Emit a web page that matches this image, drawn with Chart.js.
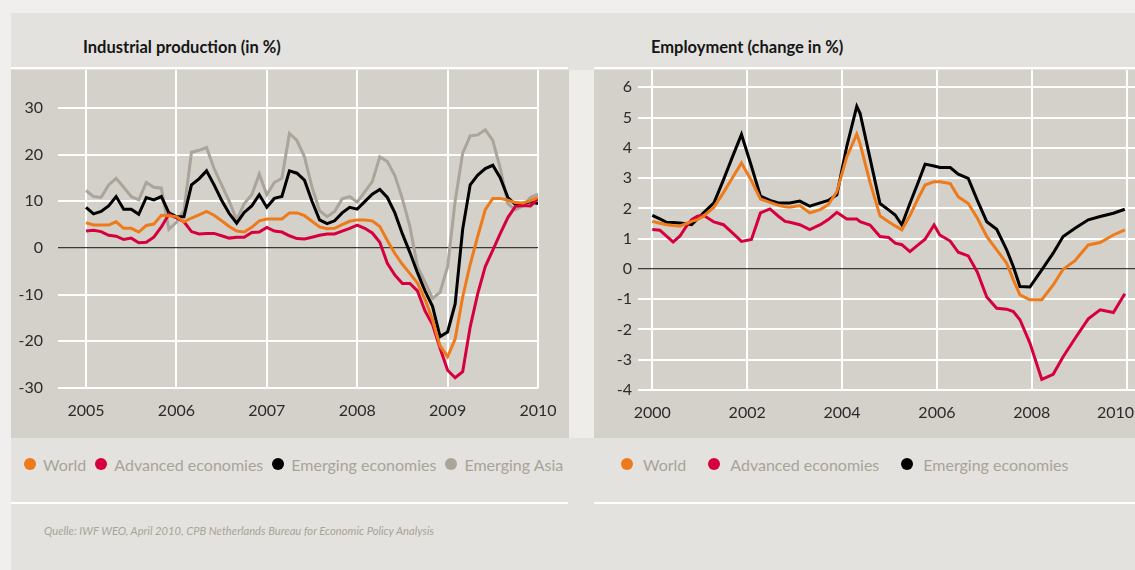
<!DOCTYPE html>
<html>
<head>
<meta charset="utf-8">
<script src="https://cdn.jsdelivr.net/npm/chart.js@4.4.1/dist/chart.umd.min.js"></script>
<style>
  body { margin: 0; width: 1135px; height: 570px; overflow: hidden; position: relative; background: #f0efed; font-family: Lato, "Open Sans", sans-serif; }
  .abs { position: absolute; }
  .panel { left: 11px; top: 13px; width: 1124px; height: 557px; background: #e3e2de; }
  .title { font-weight: 700; font-size: 16.5px; line-height: 20px; color: #151515; white-space: nowrap; }
  .rule { height: 2px; background: #ffffff; }
  .plot { background: #d4d1ca; }
  .legend { display: flex; align-items: center; height: 20px; font-size: 16px; color: #a9a399; white-space: nowrap; }
  .legend .dot { width: 12px; height: 12px; border-radius: 50%; display: inline-block; }
  .source { font-style: italic; font-size: 11.2px; color: #a9a399; white-space: nowrap; }
</style>
</head>
<body>
<div class="abs panel"></div>
<div class="abs" style="left:569px;top:70px;width:25px;height:368px;background:#eeede9"></div>
<div class="abs rule" style="left:11px;top:67px;width:557px"></div>
<div class="abs rule" style="left:594px;top:67px;width:541px"></div>
<div class="abs title" style="left:83px;top:37px">Industrial production (in %)</div>
<div class="abs title" style="left:651px;top:37px">Employment (change in %)</div>
<canvas id="ipChart" class="abs plot" width="558" height="368" style="left:11px;top:70px"></canvas>
<canvas id="empChart" class="abs plot" width="541" height="368" style="left:594px;top:70px"></canvas>
<div id="ipLegend" class="abs legend" style="left:24px;top:454px"></div>
<div id="empLegend" class="abs legend" style="left:621px;top:454px"></div>
<div class="abs rule" style="left:11px;top:502px;width:557px"></div>
<div class="abs rule" style="left:594px;top:502px;width:541px"></div>
<div class="abs source" style="left:44px;top:524px">Quelle: IWF WEO, April 2010, CPB Netherlands Bureau for Economic Policy Analysis</div>

<script>
// Industrial production, monthly from Jan 2005 to Jan 2010
const ipStartYear = 2005;
const ipYears = [2005, 2006, 2007, 2008, 2009, 2010];
const ipValueTicks = [-30, -20, -10, 0, 10, 20, 30];
const ipWorld = [5.4, 4.9, 4.9, 4.9, 5.6, 4.2, 4.2, 3.4, 4.8, 5.1,
  7.0, 6.9, 6.7, 5.6, 6.4, 7.1, 7.8, 7.0, 5.8, 4.6,
  3.6, 3.4, 4.4, 5.8, 6.2, 6.2, 6.2, 7.5, 7.5, 6.9,
  5.7, 4.5, 4.1, 4.2, 5.0, 5.7, 6.0, 6.0, 5.8, 4.6,
  1.6, -1.2, -3.5, -5.5, -7.5, -11.0, -15.4, -21.0, -23.3, -19.5,
  -10.5, -3.5, 2.5, 8.2, 10.6, 10.6, 10.2, 9.7, 9.6, 10.1, 10.8];
const ipAdvanced = [3.6, 3.8, 3.5, 2.7, 2.5, 1.8, 2.1, 1.1, 1.2, 2.3,
  4.5, 7.2, 6.4, 5.6, 3.5, 3.0, 3.1, 3.1, 2.6, 2.1,
  2.3, 2.3, 3.3, 3.4, 4.4, 3.6, 3.4, 2.6, 2.0, 1.9,
  2.3, 2.7, 3.0, 3.0, 3.6, 4.2, 4.9, 4.2, 3.2, 1.2,
  -3.3, -5.8, -7.6, -7.6, -9.2, -13.5, -16.4, -21.5, -26.2, -27.8,
  -26.5, -16.9, -9.8, -4.0, -0.5, 3.1, 6.5, 8.9, 9.1, 9.0, 10.5];
const ipEmerging = [8.7, 7.3, 7.8, 9.0, 11.0, 8.3, 8.3, 7.2, 10.8, 10.3,
  11.0, 7.5, 6.7, 6.7, 13.5, 14.8, 16.5, 13.5, 10.2, 7.4,
  5.3, 7.6, 9.0, 11.4, 8.7, 10.6, 11.0, 16.5, 16.0, 14.5,
  10.0, 6.0, 5.2, 5.8, 7.5, 8.7, 8.3, 9.9, 11.5, 12.5,
  10.8, 7.5, 3.0, -1.0, -5.3, -9.2, -12.5, -19.0, -18.0, -12.0,
  4.0, 13.5, 15.6, 17.0, 17.7, 15.0, 10.8, 9.3, 9.5, 9.9, 9.5];
const ipAsia = [12.3, 11.0, 10.8, 13.5, 14.9, 13.0, 11.0, 10.3, 14.0, 13.0,
  12.8, 4.0, 5.5, 8.0, 20.5, 20.9, 21.5, 17.0, 13.5, 10.0,
  6.0, 9.5, 11.4, 15.8, 11.4, 14.0, 14.9, 24.5, 23.0, 19.5,
  13.0, 8.0, 6.7, 7.8, 10.5, 11.0, 9.8, 12.0, 14.2, 19.5,
  18.5, 15.5, 10.5, 4.5, -4.0, -7.3, -10.8, -9.5, -4.0, 10.0,
  20.3, 24.0, 24.2, 25.3, 23.0, 17.0, 9.5, 8.2, 9.0, 10.8, 11.5];

// Employment, observation dates (decimal years) and % change
const empYears = [2000, 2002, 2004, 2006, 2008, 2010];
const empValueTicks = [-4, -3, -2, -1, 0, 1, 2, 3, 4, 5, 6];
const empDates = [2000.00, 2000.16, 2000.30, 2000.44, 2000.58, 2000.72, 2000.83, 2000.95, 2001.08, 2001.30,
  2001.50, 2001.69, 2001.88, 2002.09, 2002.28, 2002.48, 2002.66, 2002.80, 2002.90, 2003.11,
  2003.32, 2003.54, 2003.71, 2003.89, 2004.10, 2004.31, 2004.38, 2004.59, 2004.80, 2004.98,
  2005.12, 2005.26, 2005.43, 2005.61, 2005.75, 2005.94, 2006.06, 2006.28, 2006.45, 2006.66,
  2006.85, 2007.05, 2007.26, 2007.47, 2007.61, 2007.75, 2007.96, 2008.21, 2008.45, 2008.66,
  2008.91, 2009.19, 2009.44, 2009.72, 2009.96];
const empWorld = [1.57, 1.51, 1.46, 1.43, 1.41, 1.50, 1.57, 1.63, 1.74, 2.04,
  2.52, 3.01, 3.50, 2.91, 2.31, 2.20, 2.10, 2.05, 2.04, 2.09,
  1.85, 1.96, 2.12, 2.55, 3.70, 4.45, 4.14, 2.86, 1.75, 1.56,
  1.42, 1.29, 1.76, 2.35, 2.77, 2.88, 2.88, 2.82, 2.38, 2.16,
  1.68, 1.07, 0.63, 0.19, -0.36, -0.86, -1.02, -1.02, -0.53, -0.01,
  0.27, 0.79, 0.87, 1.12, 1.29];
const empAdvanced = [1.30, 1.28, 1.08, 0.89, 1.08, 1.41, 1.63, 1.74, 1.77, 1.55,
  1.46, 1.19, 0.91, 0.97, 1.85, 1.98, 1.74, 1.57, 1.54, 1.46,
  1.30, 1.46, 1.63, 1.87, 1.65, 1.65, 1.56, 1.45, 1.07, 1.04,
  0.85, 0.80, 0.57, 0.80, 0.98, 1.45, 1.12, 0.92, 0.55, 0.43,
  -0.10, -0.93, -1.30, -1.33, -1.41, -1.68, -2.45, -3.65, -3.48, -2.90,
  -2.30, -1.65, -1.35, -1.44, -0.82];
const empEmerging = [1.77, 1.65, 1.54, 1.53, 1.52, 1.49, 1.46, 1.65, 1.85, 2.18,
  2.94, 3.70, 4.44, 3.39, 2.40, 2.26, 2.18, 2.18, 2.18, 2.24,
  2.07, 2.18, 2.26, 2.45, 4.05, 5.37, 5.14, 3.65, 2.16, 1.95,
  1.78, 1.45, 2.16, 2.88, 3.46, 3.40, 3.35, 3.35, 3.13, 2.99,
  2.27, 1.56, 1.31, 0.63, 0.08, -0.58, -0.60, -0.03, 0.52, 1.07,
  1.34, 1.62, 1.73, 1.84, 1.97];

const colors = { world: '#ee7a1a', advanced: '#d5003d', emerging: '#000000', asia: '#aaa49b' };

Chart.defaults.font.family = 'Lato';
Chart.defaults.devicePixelRatio = 1;

// year labels under the plot, kept inside the canvas at the right edge
const yearLabels = {
  id: 'yearLabels',
  afterDraw(chart) {
    const s = chart.scales.x;
    const ctx = chart.ctx;
    ctx.save();
    ctx.font = '16px Lato';
    ctx.fillStyle = '#2b2b2b';
    ctx.textAlign = 'center';
    ctx.textBaseline = 'middle';
    s.ticks.forEach(t => {
      const text = String(t.value);
      const half = ctx.measureText(text).width / 2;
      const x = Math.min(s.getPixelForValue(t.value), chart.width - half - 1);
      ctx.fillText(text, x, chart.chartArea.bottom + 23);
    });
    ctx.restore();
  }
};

function series(label, color, xs, ys) {
  return {
    label,
    data: ys.map((v, i) => ({ x: xs[i], y: v })),
    borderColor: color,
    backgroundColor: color,
    borderWidth: 3,
    pointRadius: 0,
    tension: 0,
    fill: false
  };
}

function makeChart(id, datasets, cfg) {
  return new Chart(document.getElementById(id), {
    type: 'line',
    data: { datasets },
    plugins: [yearLabels],
    options: {
      responsive: false,
      animation: false,
      layout: { padding: { right: cfg.padRight, top: 0, left: 0, bottom: 0 } },
      plugins: { legend: { display: false }, tooltip: { enabled: false } },
      scales: {
        x: {
          type: 'linear',
          min: cfg.xMin,
          max: cfg.xMax,
          afterBuildTicks: s => { s.ticks = cfg.xTicks.map(v => ({ value: v })); },
          afterFit: s => { s.height = cfg.xHeight; s.paddingLeft = 0; s.paddingRight = 0; },
          border: { display: false },
          grid: { color: '#ffffff', lineWidth: 2, drawTicks: false },
          ticks: { display: false }
        },
        y: {
          min: cfg.yMin,
          max: cfg.yMax,
          afterBuildTicks: s => { s.ticks = cfg.yTicks.map(v => ({ value: v })); },
          afterFit: s => { s.width = cfg.yWidth; s.paddingTop = 0; s.paddingBottom = 0; },
          border: { display: false },
          grid: {
            drawTicks: false,
            color: c => (c.tick && c.tick.value === 0 ? '#3a3a3a' : '#ffffff'),
            lineWidth: c => (c.tick && c.tick.value === 0 ? 1.3 : 2)
          },
          ticks: { padding: cfg.yPad, color: '#2b2b2b', font: { size: 16 } }
        }
      }
    }
  });
}

const ipXs = ipWorld.map((_, i) => ipStartYear + i / 12);
const ipSets = [
  series('World', colors.world, ipXs, ipWorld),
  series('Advanced economies', colors.advanced, ipXs, ipAdvanced),
  series('Emerging economies', colors.emerging, ipXs, ipEmerging),
  series('Emerging Asia', colors.asia, ipXs, ipAsia)
];
makeChart('ipChart', ipSets, {
  xMin: 2004.69, xMax: 2010, xTicks: ipYears, xHeight: 50,
  yMin: -30, yMax: 38.1, yTicks: ipValueTicks, yWidth: 47, yPad: 15,
  padRight: 31
});

const empSets = [
  series('World', colors.world, empDates, empWorld),
  series('Advanced economies', colors.advanced, empDates, empAdvanced),
  series('Emerging economies', colors.emerging, empDates, empEmerging)
];
makeChart('empChart', empSets, {
  xMin: 1999.699, xMax: 2010.175, xTicks: empYears, xHeight: 48,
  yMin: -4, yMax: 6.57, yTicks: empValueTicks, yWidth: 44, yPad: 6,
  padRight: 0
});

function buildLegend(id, sets, gap, spacing) {
  const el = document.getElementById(id);
  sets.forEach((s, i) => {
    const dot = document.createElement('span');
    dot.className = 'dot';
    dot.style.background = s.borderColor;
    dot.style.marginRight = gap + 'px';
    const txt = document.createElement('span');
    txt.textContent = s.label;
    if (i < sets.length - 1) txt.style.marginRight = spacing + 'px';
    el.appendChild(dot);
    el.appendChild(txt);
  });
}
buildLegend('ipLegend', ipSets, 7, 9);
buildLegend('empLegend', empSets, 10, 22);
</script>
</body>
</html>
